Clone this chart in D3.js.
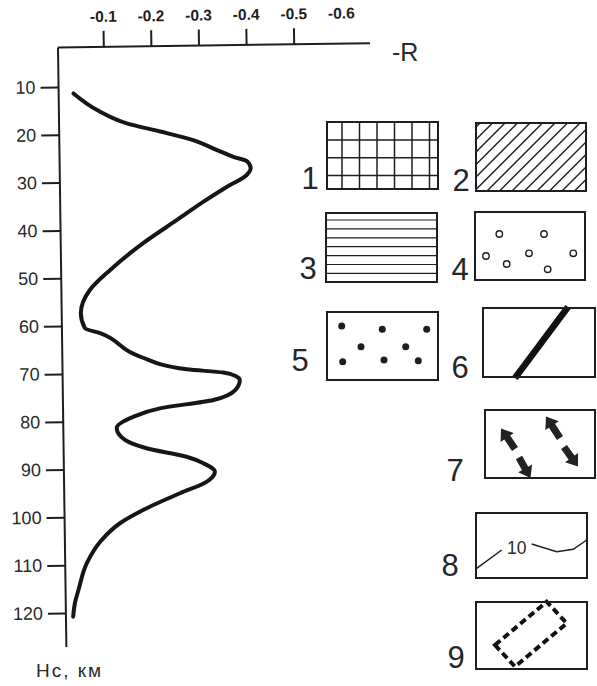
<!DOCTYPE html>
<html>
<head>
<meta charset="utf-8">
<script src="https://cdn.jsdelivr.net/npm/d3@7"></script>
<style>
  body { margin: 0; background: #fff; }
  svg { display: block; font-family: "Liberation Sans", Arial, sans-serif; }
</style>
</head>
<body>
<div id="chart"></div>
<script>
// data
const depthTicks = [10, 20, 30, 40, 50, 60, 70, 80, 90, 100, 110, 120];
const rTicks = [0.1, 0.2, 0.3, 0.4, 0.5, 0.6];
const profileDepth = [11.4, 15.1, 17.8, 19.6, 21.5, 23.6, 25.1, 26.1, 27.5, 29.0, 31.4, 34.4, 38.2, 42.9,
  48.4, 52.5, 57.4, 60.5, 61.6, 66.6, 69.4, 70.2, 71.0, 71.8, 73.9, 75.9, 77.5, 79.2, 81.5, 84.0,
  85.8, 87.7, 89.1, 90.9, 93.0, 95.3, 98.7, 101.4, 105.2, 109.7, 115.2, 118.0, 120.8];
const profileR = [0.036, 0.088, 0.147, 0.217, 0.286, 0.335, 0.370, 0.399, 0.406, 0.397, 0.355, 0.306, 0.249, 0.178,
  0.108, 0.065, 0.045, 0.053, 0.085, 0.168, 0.266, 0.343, 0.369, 0.377, 0.367, 0.321, 0.208, 0.152, 0.117, 0.134,
  0.179, 0.263, 0.298, 0.322, 0.304, 0.248, 0.170, 0.121, 0.079, 0.050, 0.032, 0.024, 0.020];
const legendLabels = ["1", "2", "3", "4", "5", "6", "7", "8", "9"];

const width = 597, height = 686;
const ink = "#1e1e1e";
const origin = { x: 58, y: 47.5 };

const svg = d3.select("#chart").append("svg")
  .attr("width", width)
  .attr("height", height);

svg.append("rect").attr("width", width).attr("height", height).attr("fill", "#fff");

const x = d3.scaleLinear().domain([0, 0.6]).range([55.7, 341.3]);
const y = d3.scaleLinear().domain([10, 120]).range([87, 613]);

// the scan is slightly tilted
const plot = svg.append("g")
  .attr("transform", `rotate(-0.8, ${origin.x}, ${origin.y})`);

// axis lines
plot.append("line")
  .attr("x1", origin.x).attr("y1", origin.y)
  .attr("x2", 370).attr("y2", origin.y)
  .attr("stroke", ink).attr("stroke-width", 2);
plot.append("line")
  .attr("x1", origin.x).attr("y1", origin.y)
  .attr("x2", origin.x).attr("y2", 647)
  .attr("stroke", ink).attr("stroke-width", 2);

// top axis
const topAxis = plot.append("g")
  .attr("transform", `translate(0,${origin.y})`)
  .call(d3.axisTop(x).tickValues(rTicks).tickSize(16).tickPadding(9)
    .tickFormat(d => "-" + d3.format(".1f")(d)));
topAxis.select(".domain").remove();
topAxis.selectAll(".tick line").attr("stroke", ink).attr("stroke-width", 2);
topAxis.selectAll(".tick").filter(d => d === 0.6).select("line").remove();
topAxis.selectAll(".tick text")
  .attr("fill", ink).attr("font-size", 15.5).attr("font-weight", "bold")
  .attr("font-family", "Liberation Sans, Arial, sans-serif");

// left axis
const leftAxis = plot.append("g")
  .attr("transform", `translate(${origin.x},0)`)
  .call(d3.axisLeft(y).tickValues(depthTicks).tickSize(18).tickPadding(5));
leftAxis.select(".domain").remove();
leftAxis.selectAll(".tick line").attr("stroke", ink).attr("stroke-width", 2);
leftAxis.selectAll(".tick text")
  .attr("fill", "#2a2a2a").attr("font-size", 18)
  .attr("font-family", "Liberation Sans, Arial, sans-serif");

// profile
const profile = profileDepth.map((d, i) => ({ depth: d, r: profileR[i] }));
plot.append("path")
  .datum(profile)
  .attr("fill", "none")
  .attr("stroke", "#161616")
  .attr("stroke-width", 4)
  .attr("stroke-linecap", "round")
  .attr("stroke-linejoin", "round")
  .attr("d", d3.line()
    .x(d => x(d.r))
    .y(d => y(d.depth))
    .curve(d3.curveMonotoneY));

// axis titles
svg.append("text")
  .attr("x", 392).attr("y", 61)
  .attr("font-size", 25).attr("fill", "#2a2a2a")
  .text("-R");
svg.append("text")
  .attr("x", 36).attr("y", 677)
  .attr("font-size", 19).attr("letter-spacing", 2).attr("fill", "#2a2a2a")
  .text("Нс, км");

// legend
const slots = [
  { x: 327, y: 122, w: 111, h: 67, lx: 310, ly: 189 },
  { x: 476, y: 123, w: 110, h: 68, lx: 461, ly: 191 },
  { x: 326, y: 213, w: 111, h: 69, lx: 308, ly: 279 },
  { x: 475, y: 212, w: 110, h: 68, lx: 460, ly: 280 },
  { x: 327, y: 312, w: 111, h: 68, lx: 300, ly: 371 },
  { x: 483, y: 308, w: 112, h: 69, lx: 460, ly: 378 },
  { x: 485, y: 410, w: 110, h: 68, lx: 455, ly: 481 },
  { x: 476, y: 513, w: 111, h: 65, lx: 450, ly: 576 },
  { x: 476, y: 602, w: 111, h: 67, lx: 456, ly: 668 }
];

const defs = svg.append("defs");

const items = svg.selectAll("g.legend")
  .data(legendLabels)
  .join("g")
  .attr("class", "legend")
  .attr("transform", (d, i) => `translate(${slots[i].x},${slots[i].y})`);

items.each(function (label, i) {
  const g = d3.select(this);
  const s = slots[i];
  const fill = g.append("g");

  if (i === 0) { // grid
    d3.range(15, s.w - 2, 17.5).forEach(v =>
      fill.append("line").attr("x1", v).attr("x2", v).attr("y1", 0).attr("y2", s.h));
    d3.range(18, s.h - 2, 17.7).forEach(v =>
      fill.append("line").attr("x1", 0).attr("x2", s.w).attr("y1", v).attr("y2", v));
    fill.attr("stroke", ink).attr("stroke-width", 1.5);
  }
  if (i === 1) { // hatch
    defs.append("clipPath").attr("id", "clip2")
      .append("rect").attr("width", s.w).attr("height", s.h);
    fill.attr("clip-path", "url(#clip2)");
    d3.range(4 - s.h, s.w + 10, 12.5).forEach(v =>
      fill.append("line").attr("x1", v).attr("y1", s.h).attr("x2", v + s.h).attr("y2", 0));
    fill.attr("stroke", ink).attr("stroke-width", 1.4);
  }
  if (i === 2) { // horizontal lines
    d3.range(7, s.h - 3, 8.9).forEach(v =>
      fill.append("line").attr("x1", 0).attr("x2", s.w).attr("y1", v).attr("y2", v));
    fill.attr("stroke", ink).attr("stroke-width", 1.2);
  }
  if (i === 3) { // open circles
    [[24.3, 22], [69, 22], [11, 44], [31.7, 52], [54, 41.3], [72.7, 57.3], [98.3, 41.3]].forEach(p =>
      fill.append("circle").attr("cx", p[0]).attr("cy", p[1]).attr("r", 3.2));
    fill.attr("fill", "none").attr("stroke", ink).attr("stroke-width", 1.4);
  }
  if (i === 4) { // dots
    [[14.7, 14], [55.3, 17.3], [99.7, 17.3], [34, 34.7], [78.7, 34.7], [15.7, 49.7], [57, 48], [91.3, 48.7]].forEach(p =>
      fill.append("circle").attr("cx", p[0]).attr("cy", p[1]).attr("r", 3.5));
    fill.attr("fill", ink);
  }
  if (i === 5) { // thick bar
    fill.append("line").attr("x1", 32).attr("y1", 70).attr("x2", 85).attr("y2", -1)
      .attr("stroke", "#111").attr("stroke-width", 6.5);
  }
  if (i === 6) { // arrows
    const arrows = [
      [[30, 39], [16, 18.5]],
      [[75, 28], [61, 6.5]],
      [[79, 37], [93, 56.5]],
      [[34, 47.5], [45.5, 68]]
    ];
    arrows.forEach(([a, b]) => {
      const ang = Math.atan2(b[1] - a[1], b[0] - a[0]);
      const len = Math.hypot(b[0] - a[0], b[1] - a[1]);
      const hl = 11, hw = 8, sw = 3.6;
      const pts = [[0, -sw], [len - hl, -sw], [len - hl, -hw], [len, 0], [len - hl, hw], [len - hl, sw], [0, sw]];
      fill.append("polygon")
        .attr("points", pts.map(p => p.join(",")).join(" "))
        .attr("transform", `translate(${a[0]},${a[1]}) rotate(${ang * 180 / Math.PI})`)
        .attr("fill", "#222");
    });
  }
  if (i === 7) { // contour with label
    fill.append("polyline").attr("points", "0.7,55.3 25.7,37")
      .attr("fill", "none").attr("stroke", ink).attr("stroke-width", 1.5);
    fill.append("polyline").attr("points", "55.7,31 80.7,38.7 97.3,36.3 110.7,27")
      .attr("fill", "none").attr("stroke", ink).attr("stroke-width", 1.5);
    fill.append("text").attr("x", 31).attr("y", 40.5)
      .attr("font-size", 17.5).attr("fill", "#2a2a2a").text("10");
  }
  if (i === 8) { // dashed outline
    fill.append("polygon").attr("points", "19,43 70.7,-0.3 90.7,21.3 39,64.7")
      .attr("fill", "none").attr("stroke", "#111").attr("stroke-width", 4)
      .attr("stroke-dasharray", "7,4");
  }

  g.append("rect")
    .attr("width", s.w).attr("height", s.h)
    .attr("fill", "none").attr("stroke", ink).attr("stroke-width", 2);

  svg.append("text")
    .attr("x", s.lx).attr("y", s.ly)
    .attr("text-anchor", "middle")
    .attr("font-size", 31).attr("fill", "#262626")
    .text(label);
});
</script>
</body>
</html>
